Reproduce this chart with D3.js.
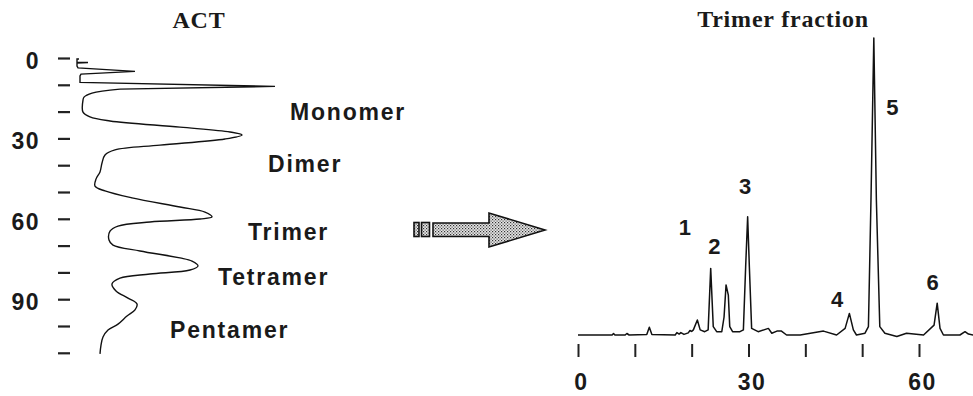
<!DOCTYPE html>
<html>
<head>
<meta charset="utf-8">
<script src="https://cdn.jsdelivr.net/npm/d3@7"></script>
<style>
  body { margin: 0; background: #fff; }
  svg { display: block; }
  .lbl { font-family: "Liberation Sans", Arial, sans-serif; font-weight: bold; fill: #1a1a1a; }
  .ttl { font-family: "Liberation Serif", "Times New Roman", serif; font-weight: bold; fill: #1a1a1a; }
</style>
</head>
<body>
<svg id="chart" width="973" height="396"></svg>
<script>
// ACT elution profile (left, drawn rotated): time in min, absorbance in arbitrary units
const actStartTime = [0.4, 0.4, 1.7, 1.7, 1.9, 3.0, 3.7, 5.0, 6.0, 6.7, 9.1, 10.6, 11.6];
const actStartAbs = [1, 0, 0, 5.5, 0, 0, 0.5, 29, 2, 1.5, 1.5, 99, 21.5];
const actTime = [11.6, 13.1, 14.6, 15.7, 20.2, 22.0, 23.5, 25.8, 27.6, 28.7, 30.2, 32.5, 34.3,
  36.2, 39.2, 42.5, 45.2, 47.8, 49.6, 52.2, 55.6, 57.5, 59.3, 60.1, 61.2, 62.7, 64.6, 67.9,
  69.8, 72.0, 74.6, 75.8, 77.6, 79.1, 80.6, 82.1, 84.3, 86.9, 89.6, 91.8, 94.0, 96.3, 99.3,
  101.5, 104.1, 107.1, 110.4];
const actAbs = [21.5, 7.5, 3.5, 3, 3, 6.5, 16.5, 51.5, 76.5, 82.5, 74, 41.5, 19,
  14, 12.5, 11.5, 9.5, 9, 14, 27.5, 51.5, 64, 67.5, 61.5, 36.5, 20.5, 16.5, 16,
  18, 31.5, 51.5, 57.5, 60.5, 56.5, 36.5, 21.5, 17.5, 19.5, 25.5, 30, 29, 25, 20.5,
  15.5, 13, 12, 11.5];
const actTicks = [0, 10, 20, 30, 40, 50, 60, 70, 80, 90, 100, 110];
const actFractions = ["Monomer", "Dimer", "Trimer", "Tetramer", "Pentamer"];
const actFractionTime = [20.2, 39.3, 64.7, 81.7, 101.5];
const actFractionAbs = [106.5, 95.5, 85.5, 70.5, 46.5];

// Trimer fraction chromatogram (right)
const trimerTime = [0, 6.0, 6.25, 6.5, 8.3, 8.6, 9.0, 12.1, 12.55, 13.0, 17.1, 17.4, 17.8, 18.1,
  18.65, 19.4, 19.7, 20.0, 20.3, 21.0, 21.5, 22.3, 22.9, 23.35, 23.8, 24.4, 25.3, 25.7, 26.05,
  26.45, 26.7, 27.2, 28.5, 29.1, 29.5, 29.85, 30.15, 30.55, 31.7, 33.5, 34.1, 35.0, 35.8, 36.7,
  39.1, 43.2, 45.5, 47.0, 47.75, 48.45, 49.0, 50.5, 51.1, 51.55, 52.05, 52.5, 53.1, 54.0, 56.1,
  57.8, 60.8, 62.65, 63.2, 63.7, 64.3, 67.2, 68.1, 68.7, 69.6];
const trimerSignal = [0, 0, 0.5, 0, 0, 0.5, 0, 0.2, 2.6, 0.2, 0, 0.8, 0.3, 0.8,
  0.2, 0.7, 1.5, 1.2, 1.7, 5, 1.7, 1.1, 1.7, 22.2, 2.8, 1.1, 1.1, 6, 16.7,
  13.3, 2.8, 1.1, 1.1, 1.7, 22.8, 39.4, 22.8, 2.2, 1.1, 2.2, 0.6, 1.3, 1.3, 0,
  0, 1.3, 0, 2.2, 7.2, 1.7, 0, 0.6, 2.8, 45, 99, 45, 2.8, 0.6, -0.5,
  0.6, 0, 3.3, 10.6, 2.2, 0, 0, 1.1, 0.3, 0];
const trimerTicks = [0, 10, 20, 30, 40, 50, 60];
const peakNames = ["1", "2", "3", "4", "5", "6"];
const peakLabelTime = [18.8, 24.0, 29.4, 45.6, 55.3, 62.4];
const peakLabelSignal = [36, 29.5, 49.5, 12, 76, 17.5];

const svg = d3.select('#chart');

// ---- left panel: ACT ----
const yAct = d3.scaleLinear().domain([0, 110]).range([58, 352.8]);
const xAct = d3.scaleLinear().domain([0, 100]).range([77, 277]);

const actAxis = d3.axisLeft(yAct)
  .tickValues(actTicks)
  .tickSize(12)
  .tickPadding(18)
  .tickFormat(d => (d % 30 === 0 ? d : ''));
const gAct = svg.append('g')
  .attr('transform', 'translate(70,0)')
  .call(actAxis);
gAct.select('.domain').remove();
gAct.selectAll('.tick line').attr('stroke', '#222').attr('stroke-width', 2.2);
gAct.selectAll('.tick text')
  .attr('class', 'lbl')
  .attr('font-size', 23)
  .attr('letter-spacing', 1.5)
  .attr('dy', '0.45em');

const actLine = d3.line()
  .x(d => xAct(d[1]))
  .y(d => yAct(d[0]));
svg.append('path')
  .attr('d', actLine.curve(d3.curveLinear)(actStartTime.map((t, i) => [t, actStartAbs[i]])))
  .attr('fill', 'none').attr('stroke', '#111').attr('stroke-width', 1.4);
svg.append('path')
  .attr('d', actLine.curve(d3.curveCatmullRom.alpha(0.5))(actTime.map((t, i) => [t, actAbs[i]])))
  .attr('fill', 'none').attr('stroke', '#111').attr('stroke-width', 1.4);

svg.selectAll('.frac')
  .data(actFractions)
  .join('text')
  .attr('class', 'lbl')
  .attr('font-size', 23)
  .attr('letter-spacing', 1.8)
  .attr('x', (d, i) => xAct(actFractionAbs[i]))
  .attr('y', (d, i) => yAct(actFractionTime[i]))
  .attr('dy', '0.36em')
  .attr('text-anchor', 'start')
  .text(d => d);

svg.append('text')
  .attr('class', 'ttl')
  .attr('x', 199).attr('y', 28)
  .attr('text-anchor', 'middle')
  .attr('font-size', 24)
  .attr('letter-spacing', 0.8)
  .text('ACT');

// ---- arrow ----
const defs = svg.append('defs');
const pat = defs.append('pattern')
  .attr('id', 'stipple')
  .attr('width', 3).attr('height', 3)
  .attr('patternUnits', 'userSpaceOnUse');
pat.append('rect').attr('width', 3).attr('height', 3).attr('fill', '#e6e6e6');
pat.append('rect').attr('x', 0).attr('y', 0).attr('width', 1.2).attr('height', 1.2).attr('fill', '#333');
pat.append('rect').attr('x', 1.5).attr('y', 1.5).attr('width', 1.2).attr('height', 1.2).attr('fill', '#555');

const arrow = svg.append('g').attr('stroke', '#111').attr('stroke-width', 1.6);
arrow.append('rect').attr('x', 414).attr('y', 222.5).attr('width', 5).attr('height', 14)
  .attr('fill', 'url(#stipple)');
arrow.append('rect').attr('x', 421.5).attr('y', 222.5).attr('width', 8).attr('height', 14)
  .attr('fill', 'url(#stipple)');
arrow.append('path')
  .attr('d', 'M433,223 L489,223 L489,213 L545,230 L489,247 L489,236.5 L433,236.5 Z')
  .attr('fill', 'url(#stipple)')
  .attr('stroke-linejoin', 'miter');

// ---- right panel: Trimer fraction ----
const xTri = d3.scaleLinear().domain([0, 60]).range([578, 919]);
const yTri = d3.scaleLinear().domain([0, 100]).range([335, 35]);

const triAxis = d3.axisBottom(xTri)
  .tickValues(trimerTicks)
  .tickSize(13)
  .tickPadding(17)
  .tickFormat(d => (d % 30 === 0 ? d : ''));
const gTri = svg.append('g')
  .attr('transform', 'translate(0,344)')
  .call(triAxis);
gTri.select('.domain').remove();
gTri.selectAll('.tick line').attr('stroke', '#222').attr('stroke-width', 2);
gTri.selectAll('.tick text')
  .attr('class', 'lbl')
  .attr('font-size', 23)
  .attr('letter-spacing', 1.5)
  .attr('dx', 3);

svg.append('path')
  .attr('d', d3.line()
    .x(d => xTri(d[0]))
    .y(d => yTri(d[1]))(trimerTime.map((t, i) => [t, trimerSignal[i]])))
  .attr('fill', 'none').attr('stroke', '#111').attr('stroke-width', 1.5)
  .attr('stroke-linejoin', 'round');

svg.selectAll('.peak')
  .data(peakNames)
  .join('text')
  .attr('class', 'lbl')
  .attr('font-size', 22)
  .attr('fill', '#2a2a2a')
  .attr('x', (d, i) => xTri(peakLabelTime[i]))
  .attr('y', (d, i) => yTri(peakLabelSignal[i]))
  .attr('dy', '0.36em')
  .attr('text-anchor', 'middle')
  .text(d => d);

svg.append('text')
  .attr('class', 'ttl')
  .attr('x', 783).attr('y', 27)
  .attr('text-anchor', 'middle')
  .attr('font-size', 24)
  .attr('letter-spacing', 0.8)
  .text('Trimer fraction');
</script>
</body>
</html>
